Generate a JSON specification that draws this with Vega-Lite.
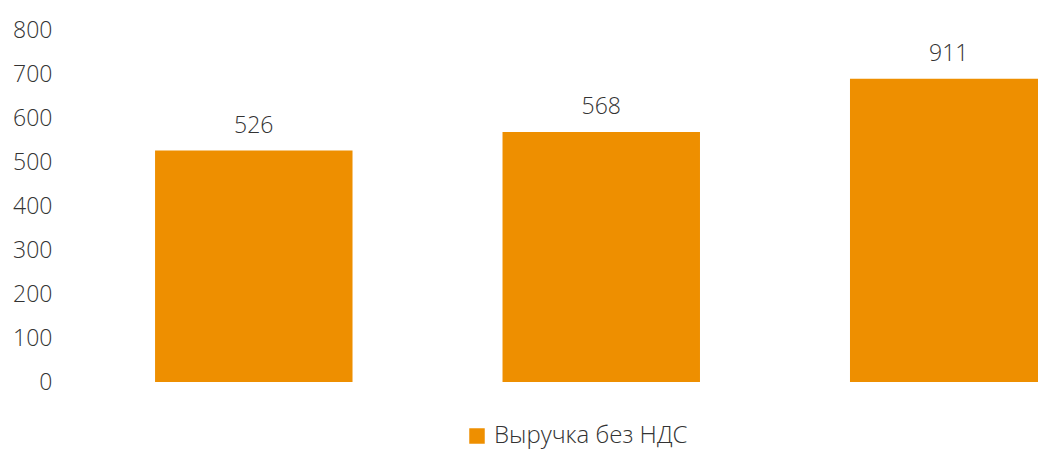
{
  "$schema": "https://vega.github.io/schema/vega-lite/v6.json",
  "autosize": {"type": "none"},
  "width": 958,
  "height": 352,
  "padding": {"left": 80, "top": 30, "right": 0, "bottom": 69},
  "background": "#ffffff",
  "config": {
    "view": {"stroke": null},
    "font": "Open Sans"
  },
  "data": {
    "values": [
      {"period": "P1", "value": 526, "label": "526", "series": "Выручка без НДС"},
      {"period": "P2", "value": 568, "label": "568", "series": "Выручка без НДС"},
      {"period": "P3", "value": 689, "label": "911", "series": "Выручка без НДС"}
    ]
  },
  "encoding": {
    "x": {
      "field": "period",
      "type": "nominal",
      "sort": null,
      "axis": null,
      "scale": {"type": "band", "range": [0, 1042.5], "paddingInner": 0.4317, "paddingOuter": 0.216}
    },
    "y": {
      "field": "value",
      "type": "quantitative",
      "scale": {"domain": [0, 800], "nice": false},
      "axis": {
        "title": null,
        "values": [0, 100, 200, 300, 400, 500, 600, 700, 800],
        "domain": false,
        "ticks": false,
        "grid": false,
        "labelFontSize": 23,
        "labelFont": "Open Sans",
        "labelFontWeight": 300,
        "labelColor": "#333333",
        "labelPadding": 28
      }
    }
  },
  "layer": [
    {
      "mark": {"type": "bar", "clip": true, "color": "#EE8F00"},
      "encoding": {
        "color": {
          "field": "series",
          "type": "nominal",
          "scale": {"range": ["#EE8F00"]},
          "legend": {
            "title": null,
            "orient": "none",
            "legendX": 385,
            "legendY": 394,
            "symbolType": "square",
            "symbolSize": 240,
            "symbolStrokeWidth": 0,
            "symbolOpacity": 1,
            "labelFontSize": 24,
            "labelFont": "Open Sans",
            "labelFontWeight": 300,
            "labelColor": "#333333",
            "labelOffset": 5,
            "labelLimit": 500
          }
        }
      }
    },
    {
      "mark": {
        "type": "text",
        "baseline": "alphabetic",
        "dy": -18,
        "fontSize": 23,
        "font": "Open Sans",
        "fontWeight": 300,
        "color": "#333333"
      },
      "encoding": {
        "text": {"field": "label", "type": "nominal"}
      }
    }
  ]
}
